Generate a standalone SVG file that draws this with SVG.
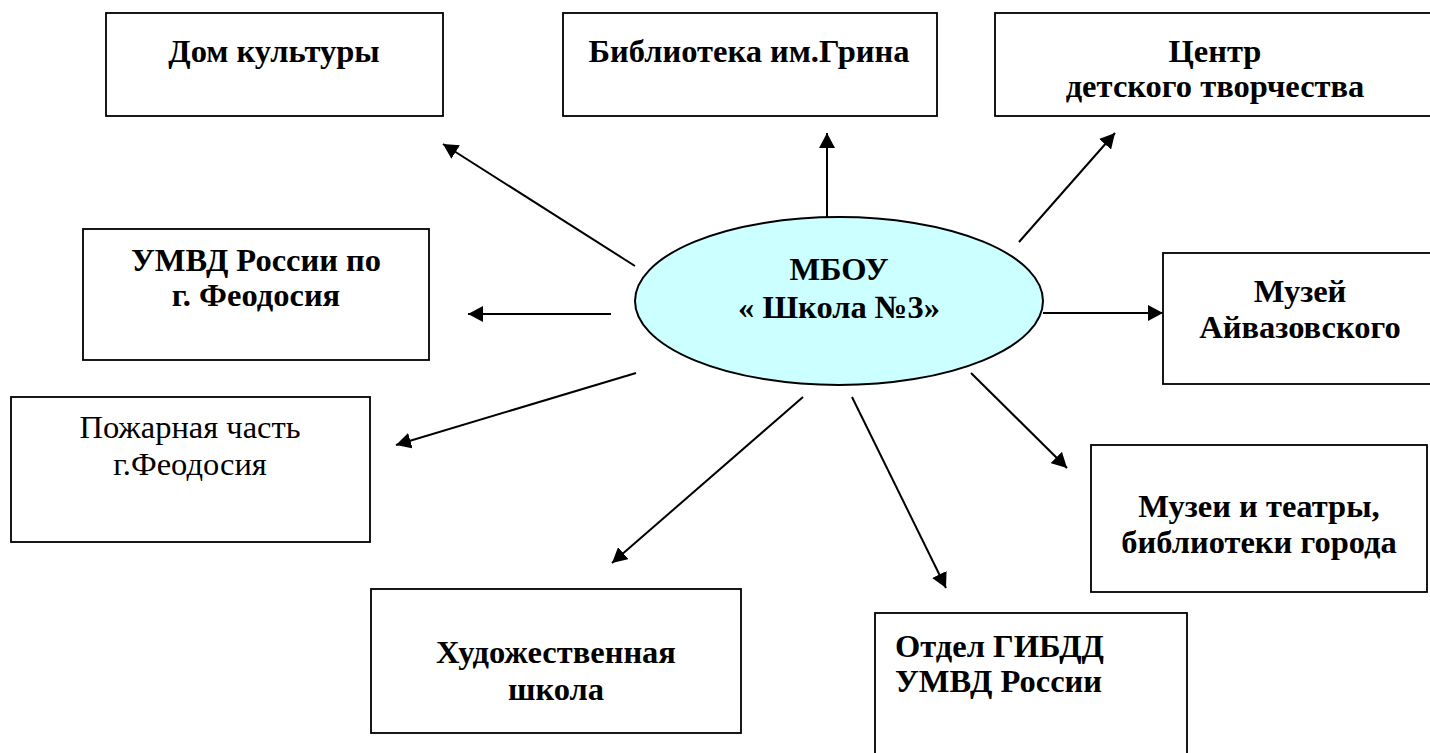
<svg xmlns="http://www.w3.org/2000/svg" width="1430" height="753" viewBox="0 0 1430 753">
<style>
.box{fill:#fff;stroke:#000;stroke-width:1.8}
.t{font-family:"Liberation Serif","Times New Roman",serif;font-size:32.5px;font-weight:bold;fill:#000;text-anchor:middle}
.n{font-weight:normal}
.l{text-anchor:start}
.c{stroke:#000;stroke-width:2;fill:none;marker-end:url(#ah)}
</style>
<defs>
<marker id="ah" markerUnits="userSpaceOnUse" markerWidth="17" markerHeight="16" refX="15" refY="8" orient="auto">
<path d="M0,0 L15,8 L0,16 Z" fill="#000"/>
</marker>
</defs>
<rect width="1430" height="753" fill="#fff"/>
<g id="connectors">
<line class="c" x1="635" y1="266" x2="443" y2="144"/>
<line class="c" x1="827" y1="217" x2="827" y2="133"/>
<line class="c" x1="1019" y1="242" x2="1115" y2="133"/>
<line class="c" x1="611" y1="314" x2="468" y2="314"/>
<line class="c" x1="1043" y1="313" x2="1163" y2="313"/>
<line class="c" x1="636" y1="373" x2="396" y2="445"/>
<line class="c" x1="971" y1="373" x2="1067" y2="468"/>
<line class="c" x1="803" y1="397" x2="612" y2="563"/>
<line class="c" x1="852" y1="397" x2="946" y2="588"/>
</g>
<g id="center">
<ellipse cx="839" cy="301" rx="204" ry="84" fill="#ccffff" stroke="#000" stroke-width="2"/>
<text class="t" x="839" y="280">МБОУ</text>
<text class="t" x="839" y="318">« Школа №3»</text>
</g>
<g id="dom">
<rect class="box" x="106" y="13" width="337" height="103"/>
<text class="t" x="274" y="62">Дом культуры</text>
</g>
<g id="biblioteka">
<rect class="box" x="563" y="13" width="374" height="103"/>
<text class="t" x="749" y="62">Библиотека им.Грина</text>
</g>
<g id="centr">
<rect class="box" x="995" y="13" width="445" height="103"/>
<text class="t" x="1215" y="62">Центр</text>
<text class="t" x="1215" y="97">детского творчества</text>
</g>
<g id="umvd">
<rect class="box" x="83" y="229" width="346" height="131"/>
<text class="t" x="256" y="271">УМВД России по</text>
<text class="t" x="256" y="306">г. Феодосия</text>
</g>
<g id="muzey">
<rect class="box" x="1163" y="253" width="280" height="131"/>
<text class="t" x="1300" y="302">Музей</text>
<text class="t" x="1300" y="338">Айвазовского</text>
</g>
<g id="pozharnaya">
<rect class="box" x="11" y="397" width="359" height="145"/>
<text class="t n" x="190" y="438">Пожарная часть</text>
<text class="t n" x="190" y="475">г.Феодосия</text>
</g>
<g id="muzei-teatry">
<rect class="box" x="1091" y="445" width="336" height="147"/>
<text class="t" x="1259" y="517">Музеи и театры,</text>
<text class="t" x="1259" y="553">библиотеки города</text>
</g>
<g id="hudozh">
<rect class="box" x="371" y="589" width="370" height="144"/>
<text class="t" x="556" y="663">Художественная</text>
<text class="t" x="556" y="700">школа</text>
</g>
<g id="gibdd">
<rect class="box" x="875" y="613" width="312" height="160"/>
<text class="t l" x="895" y="657">Отдел ГИБДД</text>
<text class="t l" x="895" y="692">УМВД России</text>
</g>
</svg>
